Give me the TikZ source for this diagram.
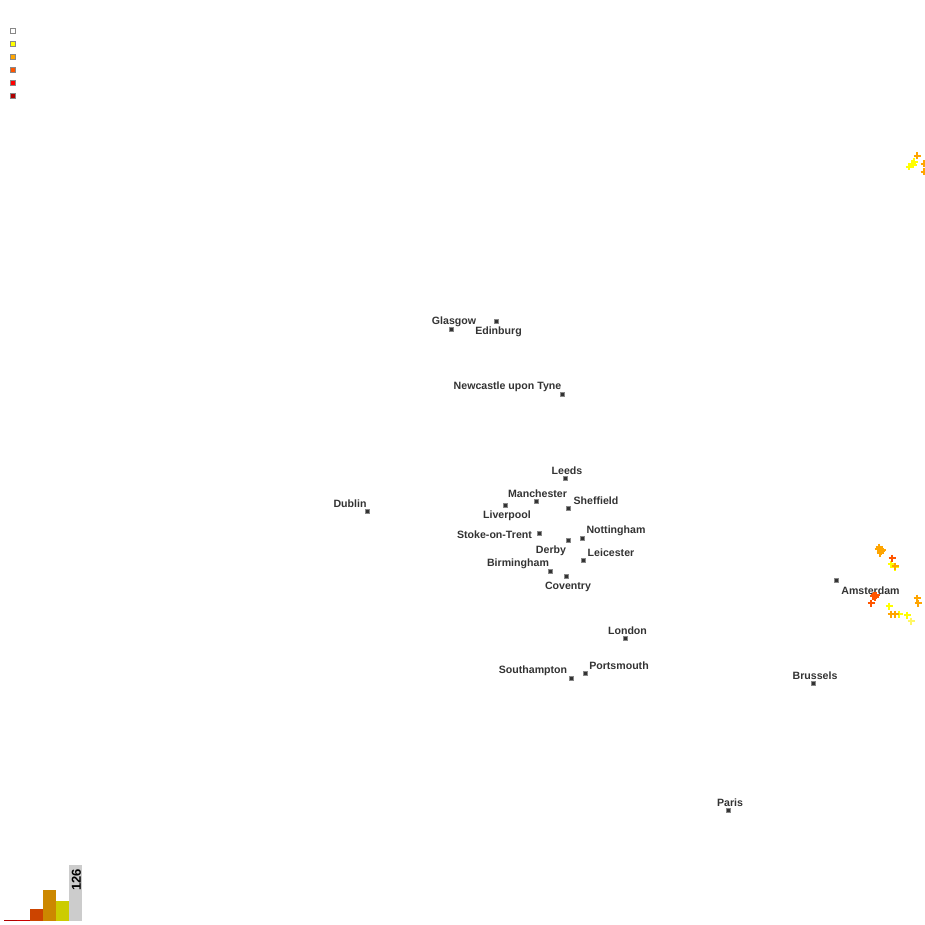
\documentclass[tikz,border=0pt]{standalone}
\usepackage{fontspec}
\setmainfont{Liberation Sans}
\usepackage{xcolor}

\definecolor{citygray}{HTML}{333333}
\definecolor{boxgray}{HTML}{888888}
\definecolor{levelyellow}{HTML}{FFFF00}
\definecolor{levelorange}{HTML}{FFA500}
\definecolor{levelhot}{HTML}{FF5500}
\definecolor{levelred}{HTML}{FF0000}
\definecolor{leveldark}{HTML}{B00000}

\tikzset{
	city/.style={draw=boxgray, fill=citygray, line width=1pt, inner sep=0pt, minimum size=4.5pt},
	place/.style={inner sep=0pt, text=citygray, font=\fontsize{10.6pt}{11pt}\selectfont\bfseries},
	key/.style={draw=boxgray, line width=1pt, inner sep=0pt, minimum size=5pt}
}

\begin{document}
\begin{tikzpicture}[x=1pt,y=-1pt]
		\useasboundingbox (0,0) rectangle (925,925);
		
		% legend
		\node [key, fill=white] (key0) at (13,31) {};
		\node [key, fill=levelyellow] (key1) at (13,44) {};
		\node [key, fill=levelorange] (key2) at (13,57) {};
		\node [key, fill=levelhot] (key3) at (13,70) {};
		\node [key, fill=levelred] (key4) at (13,83) {};
		\node [key, fill=leveldark] (key5) at (13,96) {};
		
		% cities
		\node [city] (glasgow) at (451.5,329.5) {};
		\node [city] (edinburg) at (496.5,321.5) {};
		\node [city] (newcastle) at (562.5,394.5) {};
		\node [city] (leeds) at (565.5,478.5) {};
		\node [city] (manchester) at (536.5,501.5) {};
		\node [city] (sheffield) at (568.5,508.5) {};
		\node [city] (liverpool) at (505.5,505.5) {};
		\node [city] (dublin) at (367.5,511.5) {};
		\node [city] (stoke) at (539.5,533.5) {};
		\node [city] (nottingham) at (582.5,538.5) {};
		\node [city] (derby) at (568.5,540.5) {};
		\node [city] (leicester) at (583.5,560.5) {};
		\node [city] (birmingham) at (550.5,571.5) {};
		\node [city] (coventry) at (566.5,576.5) {};
		\node [city] (london) at (625.5,638.5) {};
		\node [city] (southampton) at (571.5,678.5) {};
		\node [city] (portsmouth) at (585.5,673.5) {};
		\node [city] (amsterdam) at (836.5,580.5) {};
		\node [city] (brussels) at (813.5,683.5) {};
		\node [city] (paris) at (728.5,810.5) {};
		
		\node [place] (glasgowlabel) at (454,322) {Glasgow};
		\node [place] (edinburglabel) at (498.5,332) {Edinburg};
		\node [place] (newcastlelabel) at (507.5,387) {Newcastle upon Tyne};
		\node [place] (leedslabel) at (567,471) {Leeds};
		\node [place] (manchesterlabel) at (537.5,494) {Manchester};
		\node [place] (sheffieldlabel) at (596,501) {Sheffield};
		\node [place] (liverpoollabel) at (507,516) {Liverpool};
		\node [place] (dublinlabel) at (350,504) {Dublin};
		\node [place] (stokelabel) at (494.5,535) {Stoke-on-Trent};
		\node [place] (nottinghamlabel) at (616,531) {Nottingham};
		\node [place] (derbylabel) at (551,551) {Derby};
		\node [place] (leicesterlabel) at (611,553) {Leicester};
		\node [place] (birminghamlabel) at (518,564) {Birmingham};
		\node [place] (coventrylabel) at (568,587) {Coventry};
		\node [place] (londonlabel) at (627.5,631) {London};
		\node [place] (southamptonlabel) at (533,671) {Southampton};
		\node [place] (portsmouthlabel) at (619,666) {Portsmouth};
		\node [place] (amsterdamlabel) at (870.5,591) {Amsterdam};
		\node [place] (brusselslabel) at (815,676) {Brussels};
		\node [place] (parislabel) at (730,803) {Paris};
		
		% crosses
		\foreach \px/\py in {909/167, 912/164, 914/162, 913/165, 891/564, 895/567, 889/606, 899/614, 907/615} {
			\draw [levelyellow, line width=1.3pt] (\px-3.5,\py) -- (\px+3.5,\py) (\px,\py-3.5) -- (\px,\py+3.5);
		}
		\foreach \px/\py in {917/156, 924/164, 924/172, 879/547, 880/549, 881/551, 880/553, 882/550, 878/549, 895/566, 917/598, 918/603, 891/614, 895/614} {
			\draw [levelorange, line width=1.3pt] (\px-3.5,\py) -- (\px+3.5,\py) (\px,\py-3.5) -- (\px,\py+3.5);
		}
		\foreach \px/\py in {892/558, 871/603, 874/595, 875/597, 873/596, 876/595} {
			\draw [levelhot, line width=1.3pt] (\px-3.5,\py) -- (\px+3.5,\py) (\px,\py-3.5) -- (\px,\py+3.5);
		}
		\draw [yellow!60, line width=1.3pt] (907.5,621) -- (914.5,621) (911,617.5) -- (911,624.5);
		
		% histogram
		\fill [fill=leveldark] (4,920) rectangle (30,921);
		\fill [fill=red!80!black] (17,920) rectangle (30,921);
		\fill [fill={rgb,255:red,204;green,68;blue,0}] (30,909) rectangle (43,921);
		\fill [fill={rgb,255:red,204;green,136;blue,0}] (43,890) rectangle (56,921);
		\fill [fill={rgb,255:red,204;green,204;blue,0}] (56,901) rectangle (69,921);
		\fill [fill=black!20] (69,865) rectangle (82,921);
		\node [place, text=black, font=\fontsize{13pt}{13pt}\selectfont\bfseries, rotate=90] (count) at (76.5,880) {126};
		
		\end{tikzpicture}
\end{document}
